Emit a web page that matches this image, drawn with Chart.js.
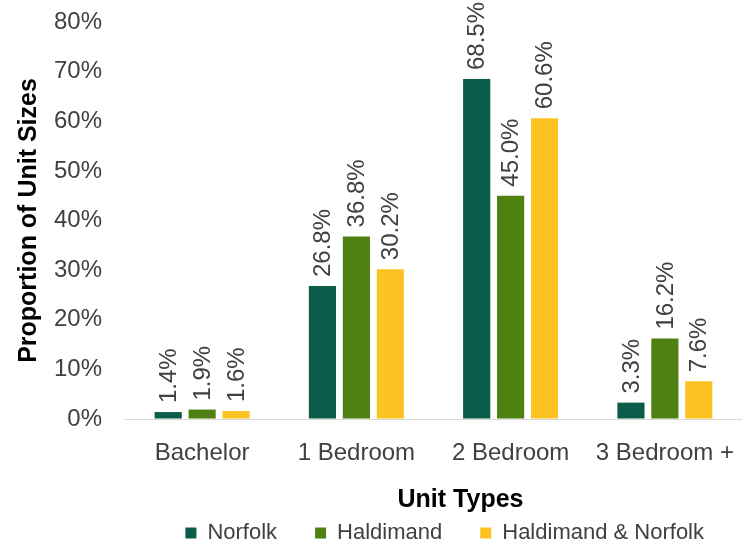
<!DOCTYPE html>
<html>
<head>
<meta charset="utf-8">
<script src="https://cdn.jsdelivr.net/npm/chart.js@4"></script>
<style>
  html, body { margin: 0; padding: 0; background: #fff; }
  #wrap { width: 742px; height: 545px; }
</style>
</head>
<body>
<div id="wrap"><canvas id="unitChart" width="742" height="545"></canvas></div>
<script>
// unit mix by region, percent of units
var unitTypes = ["Bachelor", "1 Bedroom", "2 Bedroom", "3 Bedroom +"];
var norfolk = [1.4, 26.8, 68.5, 3.3];
var haldimand = [1.9, 36.8, 45.0, 16.2];
var combined = [1.6, 30.2, 60.6, 7.6];
var yTicks = [0, 10, 20, 30, 40, 50, 60, 70, 80];

var FONT = "'Liberation Sans', Arial, sans-serif";
var TEXT = '#404040';

// value labels written vertically above each bar, plus the x axis caption
var barLabels = {
  id: 'barLabels',
  afterDatasetsDraw: function(chart) {
    var ctx = chart.ctx;
    ctx.save();
    ctx.font = '24px ' + FONT;
    ctx.fillStyle = TEXT;
    ctx.textAlign = 'left';
    ctx.textBaseline = 'middle';
    chart.data.datasets.forEach(function(ds, i) {
      chart.getDatasetMeta(i).data.forEach(function(bar, j) {
        ctx.save();
        ctx.translate(bar.x + 1, bar.y - 9);
        ctx.rotate(-Math.PI / 2);
        ctx.fillText(ds.data[j].toFixed(1) + '%', 0, 0);
        ctx.restore();
      });
    });

    var area = chart.chartArea;
    ctx.font = 'bold 25px ' + FONT;
    ctx.fillStyle = '#000';
    ctx.textAlign = 'center';
    ctx.fillText('Unit Types', (area.left + area.right) / 2 + 27, area.bottom + 81);
    ctx.restore();
  }
};

// invisible tick marks keep labels away from the axis without padding the plot
var hiddenTicks = function(len) {
  return { display: true, drawOnChartArea: false, drawTicks: true, tickLength: len, tickColor: 'rgba(0,0,0,0)' };
};

new Chart(document.getElementById("unitChart").getContext('2d'), {
  type: 'bar',
  data: {
    labels: unitTypes,
    datasets: [
      { label: 'Norfolk', data: norfolk, backgroundColor: '#0c5c4a' },
      { label: 'Haldimand', data: haldimand, backgroundColor: '#4e8012' },
      { label: 'Haldimand & Norfolk', data: combined, backgroundColor: '#fdc322' }
    ]
  },
  options: {
    responsive: false,
    animation: false,
    layout: { padding: { top: 22, right: 0, bottom: 0, left: 0 } },
    datasets: {
      bar: { barPercentage: 0.8, categoryPercentage: 0.66 }
    },
    plugins: {
      legend: {
        position: 'bottom',
        align: 'end',
        maxHeight: 61,
        labels: {
          font: { family: FONT, size: 22 },
          color: TEXT,
          boxWidth: 11,
          boxHeight: 11,
          padding: 38
        }
      },
      tooltip: { enabled: false }
    },
    scales: {
      x: {
        afterFit: function(axis) { axis.height = 65; },
        grid: hiddenTicks(20),
        border: { color: '#d9d9d9', width: 1 },
        ticks: { font: { family: FONT, size: 24 }, color: TEXT, padding: 0 }
      },
      y: {
        min: 0,
        max: 80,
        afterBuildTicks: function(axis) {
          axis.ticks = yTicks.map(function(v) { return { value: v }; });
        },
        afterFit: function(axis) { axis.width = 125; },
        grid: hiddenTicks(21),
        border: { display: false },
        ticks: {
          font: { family: FONT, size: 24 },
          color: TEXT,
          padding: 2,
          callback: function(v) { return v + '%'; }
        },
        title: {
          display: true,
          text: 'Proportion of Unit Sizes',
          font: { family: FONT, size: 25, weight: 'bold' },
          color: '#000',
          padding: { top: 14, bottom: 0 }
        }
      }
    }
  },
  plugins: [barLabels]
});
</script>
</body>
</html>
